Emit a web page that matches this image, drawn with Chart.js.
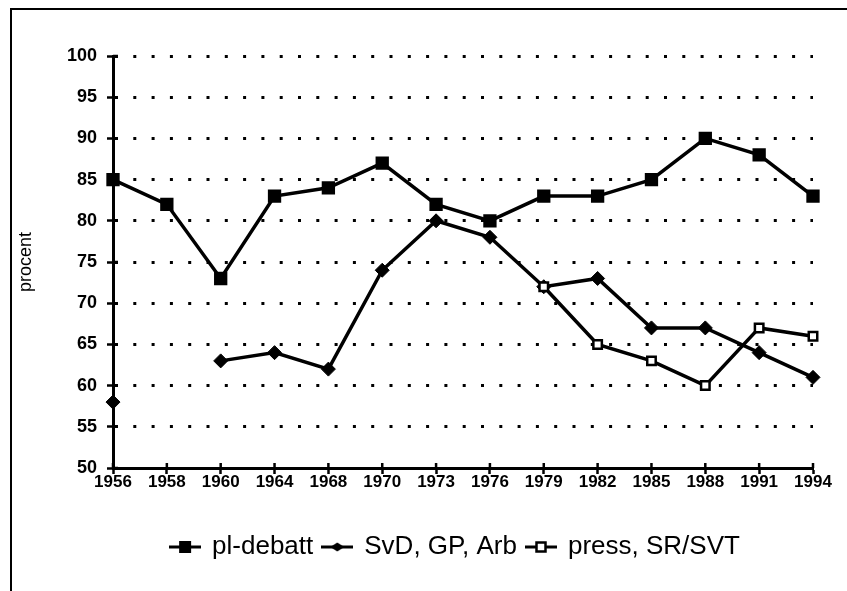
<!DOCTYPE html>
<html>
<head>
<meta charset="utf-8">
<script src="https://cdn.jsdelivr.net/npm/chart.js@4.4.1/dist/chart.umd.min.js"></script>
<style>
  html, body { margin: 0; padding: 0; background: #fff; overflow: hidden; }
  #wrap { position: relative; width: 847px; height: 591px; }
  #frame { position: absolute; left: 10px; top: 8px; width: 900px; height: 700px;
           border-left: 2px solid #000; border-top: 2px solid #000; pointer-events: none; }
  canvas { position: absolute; left: 0; top: 0; }
</style>
</head>
<body>
<div id="wrap">
  <canvas id="chart" width="847" height="591"></canvas>
  <div id="frame"></div>
</div>
<script>
const years = ["1956", "1958", "1960", "1964", "1968", "1970", "1973",
    "1976", "1979", "1982", "1985", "1988", "1991", "1994"];

const plDebatt = [85, 82, 73, 83, 84, 87, 82, 80, 83, 83, 85, 90, 88, 83];
const svdGpArb = [58, null, 63, 64, 62, 74, 80, 78, 72, 73, 67, 67, 64, 61];
const pressSrSvt = [null, null, null, null, null, null, null, null, 72, 65, 63, 60, 67, 66];

const seriesNames = ["pl-debatt", "SvD, GP, Arb", "press, SR/SVT"];

const yMin = 50;
const yMax = 100;
const yStep = 5;

const FONT = "'Liberation Sans', Arial, Helvetica, sans-serif";

// little legend icons: a line with the marker in the middle
function makeIcon(kind) {
    var c = document.createElement("canvas");
    c.width = 32;
    c.height = 16;
    var g = c.getContext("2d");
    g.strokeStyle = "#000";
    g.lineWidth = 3;
    g.beginPath();
    g.moveTo(0, 8);
    g.lineTo(32, 8);
    g.stroke();
    if (kind === "square") {
        g.fillStyle = "#000";
        g.fillRect(10, 2, 12, 12);
    } else if (kind === "diamond") {
        g.fillStyle = "#000";
        g.beginPath();
        g.moveTo(9, 8); g.lineTo(16, 3.5); g.lineTo(23, 8); g.lineTo(16, 12.5);
        g.closePath();
        g.fill();
    } else {
        g.fillStyle = "#fff";
        g.fillRect(11, 3, 10, 10);
        g.lineWidth = 2.5;
        g.strokeRect(11.5, 3.5, 9, 9);
    }
    return c;
}
const icons = [makeIcon("square"), makeIcon("diamond"), makeIcon("hollow")];

// tick marks that cross the axis lines
const crossTicks = {
    id: "crossTicks",
    afterDraw(chart) {
        var ctx = chart.ctx;
        var area = chart.chartArea;
        var y = chart.scales.y;
        var x = chart.scales.x;
        ctx.save();
        ctx.strokeStyle = "#000";
        ctx.lineWidth = 2.5;
        ctx.beginPath();
        y.ticks.forEach(function (t, i) {
            var py = y.getPixelForTick(i);
            ctx.moveTo(area.left, py);
            ctx.lineTo(area.left + 5, py);
        });
        x.ticks.forEach(function (t, i) {
            var px = x.getPixelForTick(i);
            ctx.moveTo(px, area.bottom);
            ctx.lineTo(px, area.bottom - 5);
        });
        ctx.stroke();
        ctx.restore();
    }
};

// legend in the original sits a bit right of centre
const legendShift = {
    id: "legendShift",
    afterLayout(chart) {
        chart.legend.left += 43;
        chart.legend.right += 43;
    }
};

var ctx = document.getElementById("chart").getContext("2d");
new Chart(ctx, {
    type: "line",
    data: {
        labels: years,
        datasets: [{
            label: seriesNames[0],
            data: plDebatt,
            borderColor: "#000",
            borderWidth: 3.5,
            pointStyle: "rect",
            pointRadius: 8,
            pointBorderWidth: 2,
            pointBackgroundColor: "#000",
            pointBorderColor: "#000",
            order: 2
        }, {
            label: seriesNames[1],
            data: svdGpArb,
            borderColor: "#000",
            borderWidth: 3.5,
            pointStyle: "rectRot",
            pointRadius: 7,
            pointBorderWidth: 1,
            pointBackgroundColor: "#000",
            pointBorderColor: "#000",
            order: 1
        }, {
            label: seriesNames[2],
            data: pressSrSvt,
            borderColor: "#000",
            borderWidth: 3.5,
            pointStyle: "rect",
            pointRadius: 6,
            pointBorderWidth: 2.5,
            pointBackgroundColor: "#fff",
            pointBorderColor: "#000",
            order: 0
        }]
    },
    options: {
        responsive: false,
        animation: false,
        spanGaps: false,
        elements: { line: { tension: 0 } },
        layout: { padding: { left: 12, top: 56, right: 34, bottom: 21 } },
        plugins: {
            tooltip: { enabled: false },
            legend: {
                position: "bottom",
                labels: {
                    usePointStyle: true,
                    pointStyleWidth: 28,
                    padding: 10,
                    color: "#000",
                    font: { family: FONT, size: 26 },
                    generateLabels: function (chart) {
                        return chart.data.datasets.map(function (ds, i) {
                            return {
                                text: ds.label,
                                pointStyle: icons[i],
                                fillStyle: "#000",
                                strokeStyle: "#000",
                                lineWidth: 0,
                                datasetIndex: i,
                                hidden: false
                            };
                        });
                    }
                }
            }
        },
        scales: {
            x: {
                offset: false,
                afterFit: function (s) { s.height = 56; },
                border: { display: true, color: "#000", width: 3 },
                grid: {
                    drawOnChartArea: false,
                    drawTicks: true,
                    tickLength: 6,
                    tickColor: "#000",
                    tickWidth: 2.5
                },
                ticks: {
                    color: "#000",
                    padding: -2,
                    maxRotation: 0,
                    autoSkip: false,
                    font: { family: FONT, size: 17, weight: "bold" }
                }
            },
            y: {
                min: yMin,
                max: yMax,
                afterFit: function (s) { s.width = 101; },
                border: { display: true, color: "#000", width: 3, dash: [3, 15.3] },
                grid: {
                    color: "#000",
                    lineWidth: 3,
                    tickBorderDash: [],
                    tickLength: 6,
                    tickColor: "#000",
                    tickWidth: 2.5
                },
                ticks: {
                    stepSize: yStep,
                    color: "#000",
                    padding: 10,
                    font: { family: FONT, size: 18, weight: "bold" }
                },
                title: {
                    display: true,
                    text: "procent",
                    color: "#000",
                    padding: { top: 3, bottom: 0 },
                    font: { family: FONT, size: 18 }
                }
            }
        }
    },
    plugins: [crossTicks, legendShift]
});
</script>
</body>
</html>
